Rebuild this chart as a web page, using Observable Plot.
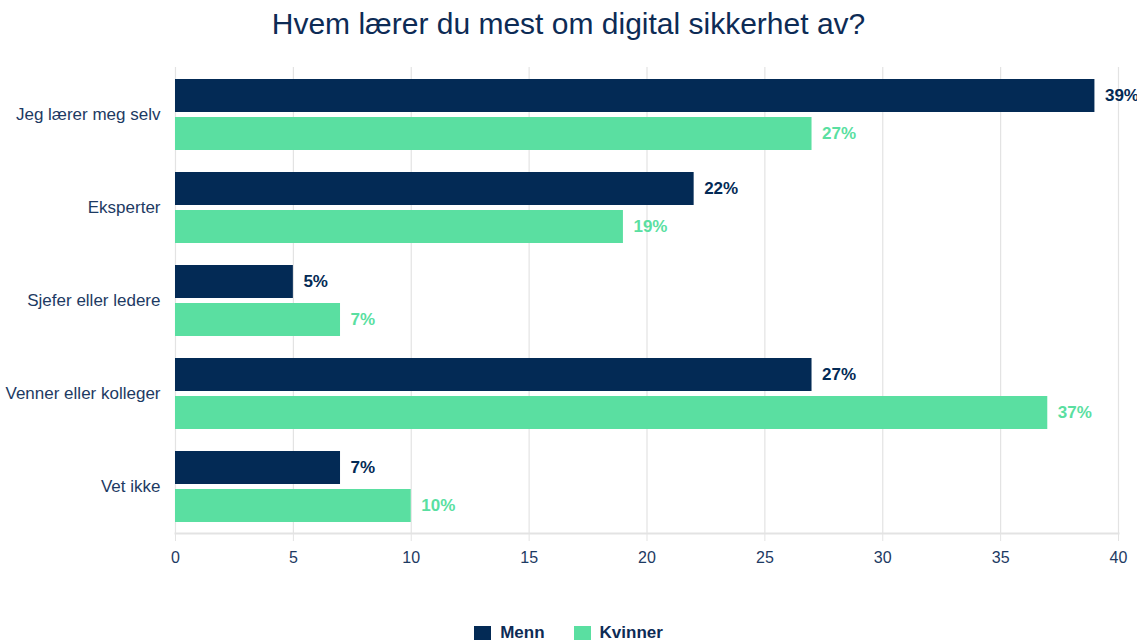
<!DOCTYPE html>
<html>
<head>
<meta charset="utf-8">
<script src="https://cdn.jsdelivr.net/npm/d3@7"></script>
<script src="https://cdn.jsdelivr.net/npm/@observablehq/plot@0.6"></script>
<style>
  html, body { margin: 0; padding: 0; background: #fff; overflow: hidden; }
  body { width: 1137px; height: 640px; font-family: "Liberation Sans", Arial, sans-serif; }
  #title { height: 50px; text-align: center; color: #0d2b55; font-size: 30px; line-height: 48px; margin: 0; font-weight: normal; }
  #chart svg { display: block; overflow: visible; }
  #legend { display: flex; justify-content: center; gap: 29px; font-weight: bold; font-size: 17px; color: #0d2b55; margin-top: 13px; padding-left: 0px; }
  #legend span.item { display: inline-flex; align-items: center; gap: 9px; }
  #legend span.sw { width: 17px; height: 15px; display: inline-block; }
</style>
</head>
<body>
<h2 id="title">Hvem lærer du mest om digital sikkerhet av?</h2>
<div id="chart"></div>
<div id="legend"></div>
<script>
const categories = ["Jeg lærer meg selv", "Eksperter", "Sjefer eller ledere", "Venner eller kolleger", "Vet ikke"];
const series = ["Menn", "Kvinner"];
const menn = [39, 22, 5, 27, 7];
const kvinner = [27, 19, 7, 37, 10];
const xTicks = [0, 5, 10, 15, 20, 25, 30, 35, 40];
const colors = ["#032a55", "#5adfa1"];

const dataMenn = categories.map((c, i) => ({category: c, series: "Menn", value: menn[i]}));
const dataKvinner = categories.map((c, i) => ({category: c, series: "Kvinner", value: kvinner[i]}));

const chart = Plot.plot({
  width: 1137,
  height: 560,
  marginLeft: 175,
  marginRight: 19,
  marginTop: 17,
  marginBottom: 77,
  style: {fontFamily: "'Liberation Sans', Arial, sans-serif", fontSize: "16px", color: "#1d3a63", overflow: "visible"},
  x: {domain: [0, 40], ticks: xTicks, label: null},
  y: {domain: categories, paddingInner: 0.24, paddingOuter: 0.12, label: null},
  marks: [
    Plot.ruleX(xTicks, {stroke: "#e3e3e3", strokeWidth: 1.2}),
    Plot.barX(dataMenn, {y: "category", x: "value", fill: colors[0], insetBottom: 38, insetTop: 0}),
    Plot.barX(dataKvinner, {y: "category", x: "value", fill: colors[1], insetTop: 38, insetBottom: 0}),
    Plot.text(dataMenn, {y: "category", x: "value", text: d => d.value + "%", dy: -19, dx: 10, textAnchor: "start", fill: colors[0], fontWeight: "bold", fontSize: 17}),
    Plot.text(dataKvinner, {y: "category", x: "value", text: d => d.value + "%", dy: 19, dx: 10, textAnchor: "start", fill: colors[1], fontWeight: "bold", fontSize: 17}),
    Plot.axisY({tickSize: 0, tickPadding: 15, fontSize: 17, fill: "#1d3a63"}),
    Plot.axisX({ticks: xTicks, tickSize: 8, tickPadding: 10, stroke: "#e3e3e3", fill: "#1d3a63", fontSize: 16, anchor: "bottom"}),
    Plot.frame({anchor: "bottom", stroke: "#e3e3e3", strokeWidth: 2})
  ]
});
document.getElementById("chart").appendChild(chart);

const legend = document.getElementById("legend");
series.forEach((s, i) => {
  const item = document.createElement("span");
  item.className = "item";
  const sw = document.createElement("span");
  sw.className = "sw";
  sw.style.background = colors[i];
  item.appendChild(sw);
  item.appendChild(document.createTextNode(s));
  legend.appendChild(item);
});
</script>
</body>
</html>
